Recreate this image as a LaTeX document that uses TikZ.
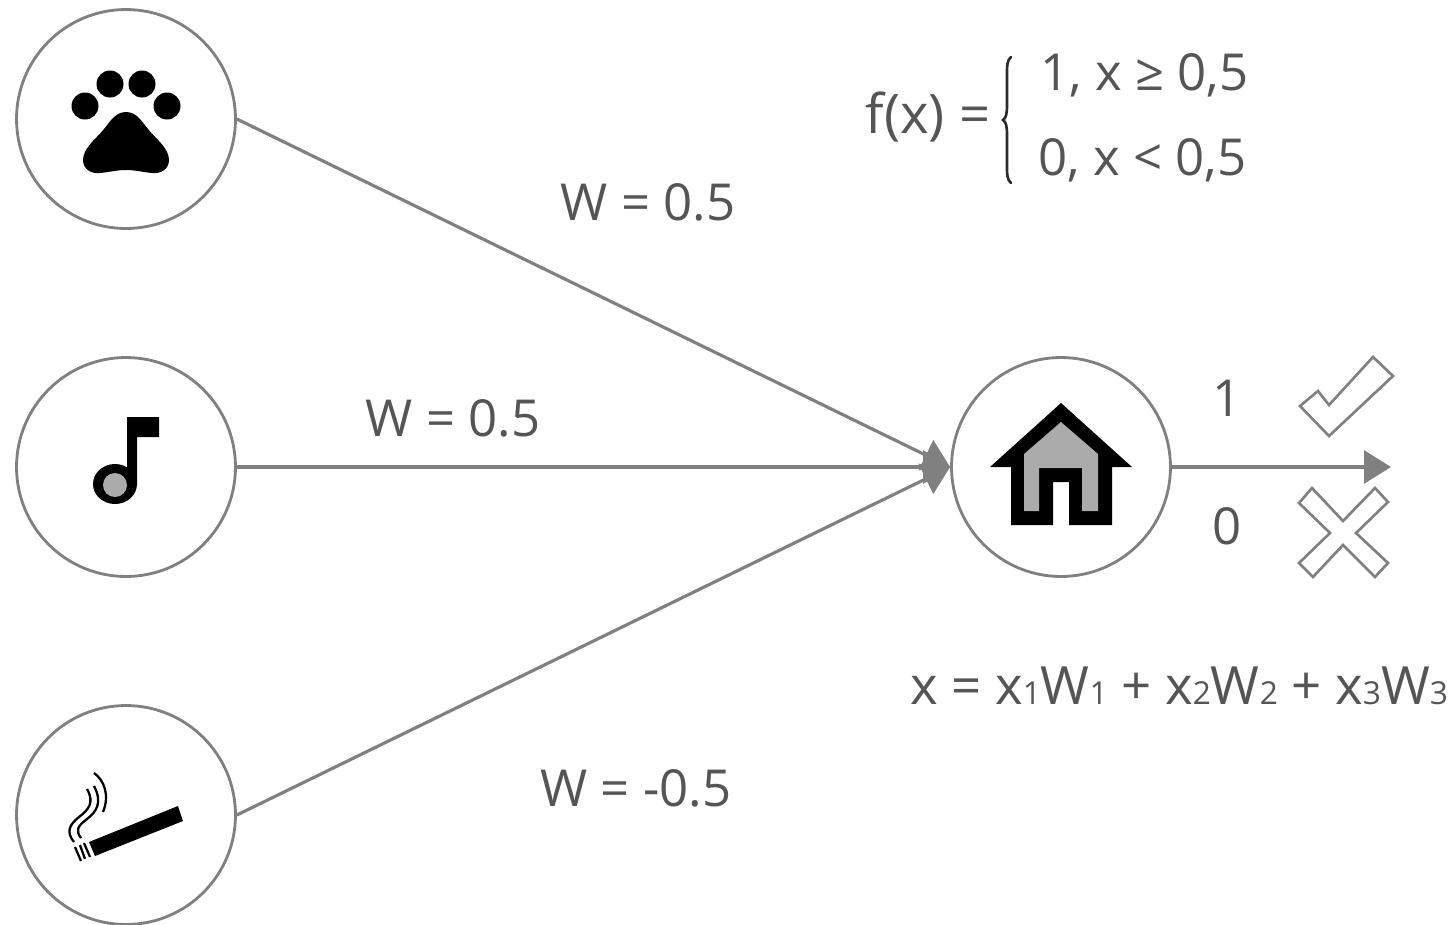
\documentclass[tikz,border=0pt]{standalone}
\usepackage{fontspec}
\setmainfont{Open Sans}
\usetikzlibrary{arrows.meta,positioning}
\definecolor{linegray}{HTML}{808080}
\definecolor{textgray}{HTML}{555555}
\definecolor{fillgray}{HTML}{ABABAB}
\newcommand{\lowd}[1]{{\fontsize{18}{20}\selectfont #1}}
\tikzset{
  unit/.style={circle,draw=linegray,line width=1.6pt,minimum size=4.38cm,inner sep=0pt},
  wlab/.style={text=textgray,inner sep=0pt,font=\fontsize{29}{34}\selectfont},
  link/.style={draw=linegray,line width=1.8pt,-{Triangle[length=0.54cm,width=0.66cm]}},
  mark outline/.style={draw=linegray,line width=1.5pt,line join=miter}
}
\begin{document}
\begin{tikzpicture}[x=0.02cm,y=-0.02cm]
\useasboundingbox (0,0) rectangle (1455,924);
% units
\node[unit] (paw) at (126,119) {};
\node[unit] (note) at (126,467) {};
\node[unit] (smoke) at (126,815) {};
\node[unit] (house) at (1061,467) {};
\coordinate (out) at (1391,467);
% links
\draw[link] (paw.east)--(house.west);
\draw[link] (note.east)--(house.west);
\draw[link] (smoke.east)--(house.west);
\draw[link] (house.east)--(out);
% weights
\node[wlab] (w1) at (648,202) {W = 0.5};
\node[wlab] (w2) at (453,418) {W = 0.5};
\node[wlab] (w3) at (636,788) {W = -0.5};
\node[wlab] (one) at (1227,398) {1};
\node[wlab] (zero) at (1227,526) {0};
% formulas
\node[wlab,font=\fontsize{31}{36}\selectfont] (fx) at (928,117) {f(x) =};
\node[wlab,anchor=west] (case1) at (1040,75) {1, x ≥ 0,5};
\node[wlab,anchor=west] (case0) at (1038,160) {0, x < 0,5};
\node[wlab,font=\fontsize{30}{35}\selectfont] (sum) at (1179,686) {x = x\lowd{1}W\lowd{1} + x\lowd{2}W\lowd{2} + x\lowd{3}W\lowd{3}};
\draw[textgray!50!black,line width=1.5pt,line cap=round] (1011,57) .. controls (1007,60) and (1007,66) .. (1007,75)--(1007,105) .. controls (1007,114) and (1006,118) .. (1003,120) .. controls (1006,122) and (1007,126) .. (1007,135)--(1007,165) .. controls (1007,174) and (1007,180) .. (1011,183);
% paw
\foreach \x/\y in {85/106,110/84,142/84,167/106}{\fill (\x,\y) circle (13.5);}
\fill (126,112) .. controls (137,112) and (142,122) .. (148,129) .. controls (155,138) and (169,148) .. (169,160) .. controls (169,169) and (161,174) .. (152,173) .. controls (142,172) and (135,170) .. (126,170) .. controls (117,170) and (110,172) .. (100,173) .. controls (91,174) and (83,169) .. (83,160) .. controls (83,148) and (97,138) .. (104,129) .. controls (110,122) and (115,112) .. (126,112)--cycle;
% music note
\fill (127,417)--(159,417)--(159,437)--(137,437)--(137,485)--(127,485)--cycle;
\fill (115,484) ellipse (22 and 20);
\fill[fillgray] (115,485) ellipse (12 and 12);
% cigarette
\fill (89,842)--(178,806)--(183,821)--(95,856)--cycle;
\foreach \xa/\ya/\xb/\yb in {75/847/81/861,80/845/85/859,84/843/90/857}{\draw[line width=1.3pt] (\xa,\ya)--(\xb,\yb);}
\draw[line width=1.3pt] (94,773) .. controls (104,780) and (110,795) .. (103,812);
\draw[line width=1.3pt] (87,789) .. controls (95,803) and (88,810) .. (79,817) .. controls (69,825) and (66,832) .. (74,842);
\draw[line width=1.3pt] (94,786) .. controls (103,803) and (96,812) .. (87,819) .. controls (78,826) and (75,830) .. (81,838);
% house
\fill (1061,403)--(1132,467)--(1112,467)--(1112,525)--(1069,525)--(1069,482)--(1053,482)--(1053,525)--(1011,525)--(1011,467)--(990,467)--cycle;
\fill[fillgray] (1061,422)--(1098,454)--(1098,511)--(1082,511)--(1082,468)--(1039,468)--(1039,511)--(1024,511)--(1024,454)--cycle;
% check and cross
\draw[mark outline] (1373,357)--(1393,376)--(1329,436)--(1300,406)--(1318,391)--(1329,405)--cycle;
\draw[mark outline] (1312,488)--(1343,521)--(1375,488)--(1388,502)--(1356,533)--(1388,563)--(1375,577)--(1343,545)--(1313,577)--(1299,563)--(1330,533)--(1299,503)--cycle;
\end{tikzpicture}
\end{document}
